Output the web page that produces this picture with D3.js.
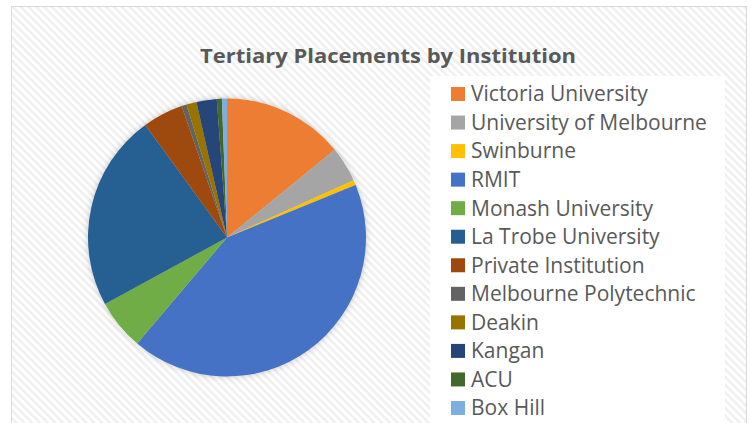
<!DOCTYPE html>
<html>
<head>
<meta charset="utf-8">
<script src="https://cdn.jsdelivr.net/npm/d3@7"></script>
<style>
    body { margin: 0; background: #fff; }
    svg { display: block; }
</style>
</head>
<body>
<div id="draw_here"></div>

<script type="text/javascript">
    // Data
    institutions = ["Victoria University", "University of Melbourne", "Swinburne", "RMIT",
        "Monash University", "La Trobe University", "Private Institution", "Melbourne Polytechnic",
        "Deakin", "Kangan", "ACU", "Box Hill"]
    placements = [24, 7, 1, 72, 10, 39, 8, 1, 2, 4, 1, 1]
    colours = ["#ed7d31", "#a5a5a5", "#ffc000", "#4472c4", "#70ad47", "#255e91",
        "#9e480e", "#636363", "#997300", "#264478", "#43682b", "#7cafdd"]

    canvas = ({width: 751, height: 423})
    txt_col = "#595959"
    font = "'Open Sans', 'Noto Sans', sans-serif"

    var svg = d3.select("div#draw_here").append("svg")
        .attr("width", canvas.width)
        .attr("height", canvas.height)

    var defs = svg.append("defs")

    // Striped chart-area fill
    var pat = defs.append("pattern")
        .attr("id", "stripes")
        .attr("patternUnits", "userSpaceOnUse")
        .attr("width", 5.5)
        .attr("height", 5.5)
        .attr("patternTransform", "rotate(45)")
    pat.append("rect").attr("width", 5.5).attr("height", 5.5).attr("fill", "#ffffff")
    pat.append("rect").attr("width", 5.5).attr("height", 2.5).attr("fill", "#efefef")

    var shadow = defs.append("filter")
        .attr("id", "shadow")
        .attr("x", "-20%").attr("y", "-20%")
        .attr("width", "140%").attr("height", "140%")
    shadow.append("feDropShadow")
        .attr("dx", 0).attr("dy", 0)
        .attr("stdDeviation", 3)
        .attr("flood-color", "#000")
        .attr("flood-opacity", 0.22)

    // Frame
    svg.append("rect")
        .attr("x", 11.5).attr("y", 6.5)
        .attr("width", 735).attr("height", 430)
        .attr("fill", "url(#stripes)")
        .attr("stroke", "#d9d9d9")
        .attr("stroke-width", 1)

    // Title
    svg.append("text")
        .attr("x", 388)
        .attr("y", 63)
        .attr("text-anchor", "middle")
        .attr("fill", txt_col)
        .attr("font-family", font)
        .attr("font-weight", "bold")
        .attr("font-size", 20)
        .attr("textLength", 376)
        .attr("lengthAdjust", "spacingAndGlyphs")
        .text("Tertiary Placements by Institution")

    // Pie
    var cx = 227, cy = 237.5, r = 139
    pie = d3.pie().sort(null).value(d => d)
    arc = d3.arc().innerRadius(0).outerRadius(r)

    var g_pie = svg.append("g")
        .attr("transform", `translate(${cx},${cy})`)
        .attr("filter", "url(#shadow)")

    g_pie.selectAll("path")
        .data(pie(placements))
        .join("path")
        .attr("fill", (d, i) => colours[i])
        .attr("d", arc)

    // Legend
    svg.append("rect")
        .attr("x", 430).attr("y", 76)
        .attr("width", 295).attr("height", 360)
        .attr("fill", "#ffffff")

    var row_y = d3.scalePoint()
        .domain(institutions)
        .range([94, 408])

    var leg = svg.append("g").selectAll("g")
        .data(institutions)
        .join("g")
        .attr("transform", d => `translate(451,${row_y(d)})`)

    leg.append("rect")
        .attr("x", 0).attr("y", -7)
        .attr("width", 14).attr("height", 14)
        .attr("fill", (d, i) => colours[i])

    leg.append("text")
        .attr("x", 20)
        .attr("y", 0)
        .attr("dy", "0.35em")
        .attr("fill", txt_col)
        .attr("font-family", font)
        .attr("font-size", 21)
        .text(d => d)
</script>
</body>
</html>
